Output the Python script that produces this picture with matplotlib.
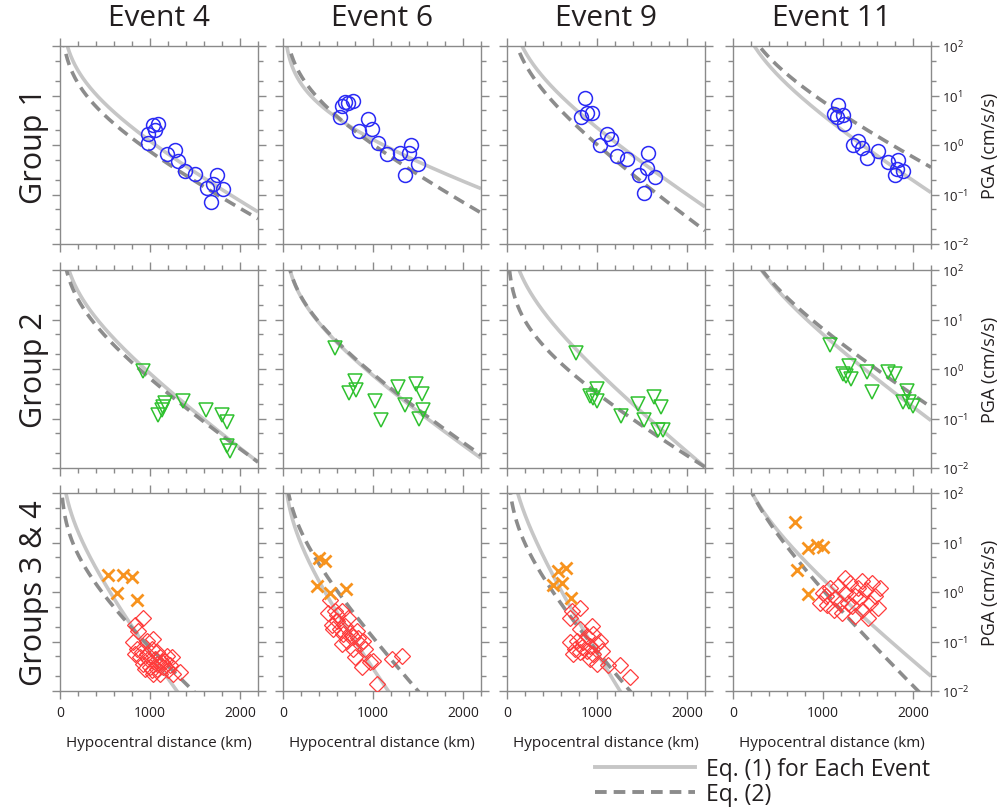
import numpy as np
import matplotlib
matplotlib.use("Agg")
import matplotlib.pyplot as plt
from matplotlib.lines import Line2D
from matplotlib.ticker import LogLocator, LogFormatterSciNotation, MultipleLocator, NullFormatter

plt.rcParams['font.family'] = ['Open Sans', 'DejaVu Sans']
plt.rcParams['mathtext.fontset'] = 'dejavusans'

events = ["Event 4", "Event 6", "Event 9", "Event 11"]
groups = ["Group 1", "Group 2", "Groups 3 & 4"]

# ---- Group 1 (circles): distance km, PGA cm/s/s ----
g1_r = [
    [981, 974, 1030, 1089, 1059, 1185, 1278, 1315, 1389, 1500, 1630, 1704, 1741, 1807, 1678],
    [633, 652, 689, 726, 774, 948, 848, 985, 1059, 1152, 1300, 1404, 1419, 1504, 1356],
    [867, 819, 885, 941, 1107, 1152, 1033, 1226, 1330, 1570, 1559, 1470, 1644, 1522],
    [1170, 1122, 1159, 1219, 1233, 1330, 1385, 1430, 1485, 1615, 1726, 1830, 1826, 1893, 1800],
]
g1_pga = [
    [1.08, 1.66, 2.5, 2.6, 2.0, 0.65, 0.79, 0.47, 0.30, 0.26, 0.135, 0.166, 0.25, 0.13, 0.071],
    [3.6, 6.2, 7.3, 6.9, 7.6, 3.3, 1.9, 2.1, 1.12, 0.65, 0.68, 0.68, 1.02, 0.41, 0.25],
    [8.7, 3.6, 4.5, 4.4, 1.7, 1.35, 1.02, 0.61, 0.53, 0.70, 0.35, 0.25, 0.23, 0.107],
    [6.3, 4.3, 3.7, 4.0, 2.6, 1.02, 1.23, 0.88, 0.55, 0.76, 0.45, 0.49, 0.33, 0.30, 0.25],
]

# ---- Group 2 (triangles) ----
g2_r = [
    [919, 1167, 1148, 1130, 1093, 1370, 1622, 1796, 1852, 1852, 1889],
    [578, 800, 811, 737, 1022, 1085, 1274, 1356, 1478, 1541, 1552, 1515],
    [767, 1004, 922, 959, 996, 1263, 1459, 1522, 1633, 1707, 1681, 1737],
    [1078, 1293, 1226, 1256, 1307, 1485, 1541, 1726, 1800, 1930, 1885, 1959, 2004],
]
g2_pga = [
    [0.91, 0.21, 0.17, 0.15, 0.117, 0.23, 0.15, 0.115, 0.084, 0.028, 0.022],
    [2.7, 0.57, 0.37, 0.32, 0.225, 0.093, 0.44, 0.19, 0.49, 0.31, 0.15, 0.098],
    [2.1, 0.39, 0.29, 0.26, 0.225, 0.11, 0.195, 0.093, 0.27, 0.17, 0.059, 0.059],
    [3.1, 1.16, 0.81, 0.73, 0.64, 0.88, 0.34, 0.85, 0.78, 0.36, 0.22, 0.22, 0.175],
]

# ---- Group 3 (crosses) ----
g3_r = [
    [537, 704, 796, 630, 859],
    [404, 467, 374, 522, 700],
    [570, 656, 515, 607, 707],
    [689, 833, 933, 1000, 711, 833],
]
g3_pga = [
    [2.2, 2.2, 2.0, 0.95, 0.70],
    [4.9, 4.2, 1.3, 0.95, 1.17],
    [2.7, 3.0, 1.36, 1.5, 0.76],
    [26, 7.9, 8.7, 8.3, 2.75, 0.91],
]

# ---- Group 4 (diamonds) ----
g4_r = [
    [833, 926, 870, 815, 963, 1037, 833, 889, 963, 1019, 1074, 1111, 1185, 1241, 926, 1000, 1074,
     1148, 1204, 1037, 1111, 1333, 1259, 981, 1056, 1130, 907, 852, 1167, 1222, 1019, 944, 1074],
    [522, 504, 578, 652, 541, 596, 633, 689, 744, 781, 707, 837, 652, 781, 856, 911, 800, 874,
     967, 1004, 1207, 1319, 1041, 596, 726, 559, 670, 819, 893],
    [719, 811, 700, 811, 941, 959, 700, 774, 848, 922, 996, 1052, 737, 811, 885, 959, 922, 996,
     1126, 1256, 1367, 885, 1033, 830, 756],
    [1000, 1044, 1133, 1167, 1244, 1278, 1356, 1300, 1411, 1433, 1478, 1522, 1578, 1633, 1211,
     1356, 1500, 1078, 967, 1189, 1322, 1389, 1244, 1544, 1611, 1433, 1122, 1033],
]
g4_pga = [
    [0.22, 0.30, 0.163, 0.096, 0.103, 0.111, 0.056, 0.048, 0.056, 0.070, 0.060, 0.048, 0.052, 0.048,
     0.035, 0.030, 0.035, 0.030, 0.026, 0.022, 0.022, 0.024, 0.022, 0.044, 0.044, 0.038, 0.060,
     0.070, 0.041, 0.033, 0.026, 0.028, 0.028],
    [0.70, 0.38, 0.41, 0.41, 0.22, 0.26, 0.177, 0.206, 0.151, 0.124, 0.103, 0.12, 0.088, 0.070,
     0.088, 0.070, 0.048, 0.030, 0.038, 0.041, 0.044, 0.052, 0.014, 0.35, 0.30, 0.177, 0.14,
     0.163, 0.103],
    [0.41, 0.48, 0.30, 0.177, 0.206, 0.14, 0.096, 0.103, 0.096, 0.082, 0.088, 0.065, 0.056, 0.060,
     0.065, 0.056, 0.044, 0.035, 0.033, 0.033, 0.019, 0.13, 0.103, 0.076, 0.070],
    [0.95, 0.55, 0.76, 1.32, 0.95, 0.60, 0.83, 1.5, 0.76, 0.44, 1.1, 0.60, 0.83, 1.2, 0.38, 0.33,
     0.30, 1.2, 0.60, 0.60, 0.52, 1.2, 1.9, 1.5, 0.48, 1.66, 0.44, 0.83],
]

# ---- Attenuation curves: log10(PGA) = c1000 - log10(R/1000) - k*(R-1000) ----
# rows = groups, columns = events
eq1_c1000 = [[0.08, 0.11, 0.35, 0.60],
             [-0.09, -0.13, -0.03, 0.70],
             [-1.23, -1.545, -1.232, 0.26]]
eq1_k = [[9.07e-4, 5.4e-4, 1.048e-3, 1.015e-3],
         [1.206e-3, 1.107e-3, 1.34e-3, 1.165e-3],
         [2.19e-3, 2.277e-3, 2.616e-3, 1.348e-3]]
eq2_c1000 = [[-0.13, 0.01, 0.01, 0.88],
             [-0.19, -0.10, -0.49, 0.81],
             [-1.12, -0.918, -1.19, 0.04]]
eq2_k = [[8.48e-4, 8.65e-4, 1.165e-3, 8.23e-4],
         [1.123e-3, 1.082e-3, 9.57e-4, 1.03e-3],
         [1.475e-3, 1.811e-3, 1.838e-3, 1.633e-3]]

W, H = 997, 812
fig = plt.figure(figsize=(W / 100, H / 100), dpi=100)

col_left = [60, 283, 507, 733]
row_top = [47, 271, 494]
pw, ph = 198, 198

SOLID = "#c6c6c6"
DASH = "#8c8c8c"
SPINE = "#8a8a8a"
TXT = "#231f20"

def curve(c, k, r):
    return 10 ** (c - np.log10(r / 1000.0) - k * (r - 1000.0))

rr = np.linspace(5, 2200, 800)

for gi in range(3):
    for ei in range(4):
        x0 = col_left[ei] / W
        y0 = 1 - (row_top[gi] + ph) / H
        ax = fig.add_axes([x0, y0, pw / W, ph / H])
        ax.set_yscale('log')
        ax.set_xlim(0, 2200)
        ax.set_ylim(1e-2, 1e2)

        ax.plot(rr, curve(eq1_c1000[gi][ei], eq1_k[gi][ei], rr), color=SOLID, lw=2.6,
                solid_capstyle='butt', zorder=2)
        ax.plot(rr, curve(eq2_c1000[gi][ei], eq2_k[gi][ei], rr), color=DASH, lw=2.6,
                dashes=(3.2, 1.9), zorder=3)

        if gi == 0:
            ax.plot(g1_r[ei], g1_pga[ei], ls='none', marker='o', ms=10, mfc='none',
                    mec='#2a2af5', mew=1.1, zorder=4)
        elif gi == 1:
            ax.plot(g2_r[ei], g2_pga[ei], ls='none', marker='v', ms=10, mfc='none',
                    mec='#2fc12f', mew=1.1, zorder=4)
        else:
            ax.plot(g4_r[ei], g4_pga[ei], ls='none', marker='D', ms=8, mfc='none',
                    mec='#ff3b3b', mew=0.9, zorder=4)
            ax.plot(g3_r[ei], g3_pga[ei], ls='none', marker='x', ms=8, mec='#f7931e',
                    mew=2.0, zorder=5)

        for s in ax.spines.values():
            s.set_color(SPINE)
            s.set_linewidth(1.0)

        ax.xaxis.set_major_locator(MultipleLocator(1000))
        ax.xaxis.set_minor_locator(MultipleLocator(200))
        ax.yaxis.set_major_locator(LogLocator(base=10, numticks=10))
        ax.yaxis.set_minor_locator(LogLocator(base=10, subs=(2.0, 5.0), numticks=10))
        ax.yaxis.set_minor_formatter(NullFormatter())
        ax.tick_params(which='both', direction='out', color=SPINE, top=True, right=True,
                       bottom=True, left=True, labelcolor=TXT)
        ax.tick_params(which='major', length=6, width=1.0, labelsize=10)
        ax.tick_params(which='minor', length=3.5, width=1.0)
        ax.tick_params(axis='y', labelleft=False, labelright=(ei == 3))
        ax.tick_params(axis='x', labelbottom=(gi == 2), pad=4)
        if ei == 3:
            ax.yaxis.set_major_formatter(LogFormatterSciNotation())
            ax.tick_params(axis='y', labelsize=9.5, pad=2)
            ax.yaxis.set_label_position('right')
            ax.set_ylabel("PGA (cm/s/s)", fontsize=13, color=TXT, labelpad=8)
        if gi == 2:
            ax.set_xlabel("Hypocentral distance (km)", fontsize=11, color=TXT, labelpad=11)

# column titles and row labels
for ei, name in enumerate(events):
    fig.text((col_left[ei] + pw / 2) / W, 1 - 19 / H, name, ha='center', va='center',
             fontsize=21.5, color=TXT)
for gi, name in enumerate(groups):
    fig.text(34 / W, 1 - (row_top[gi] + ph / 2) / H, name, ha='center', va='center',
             rotation=90, fontsize=22, color=TXT)

# legend
handles = [Line2D([], [], color=SOLID, lw=2.8),
           Line2D([], [], color=DASH, lw=2.8, dashes=(3.0, 1.8))]
fig.legend(handles, ["Eq. (1) for Each Event", "Eq. (2)"], loc='lower left',
           bbox_to_anchor=(574 / W, -16 / H), frameon=False, fontsize=16.5,
           handlelength=4.4, labelspacing=0.06, handletextpad=0.45, labelcolor=TXT)

fig.savefig("out.png", dpi=100)
